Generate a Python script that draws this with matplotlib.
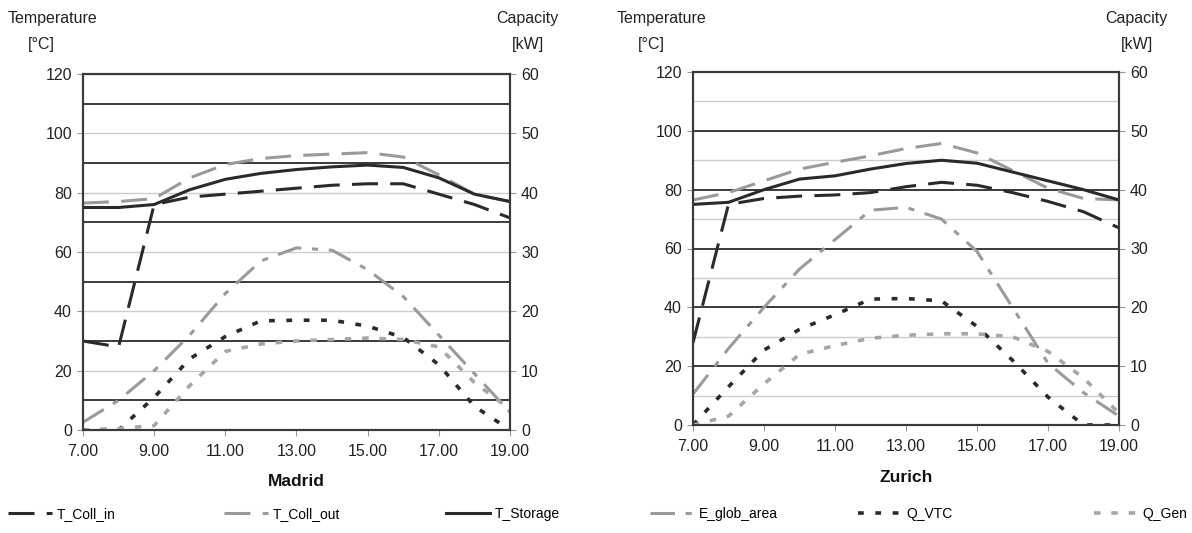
import matplotlib
matplotlib.use("Agg")
import matplotlib.pyplot as plt
from matplotlib.lines import Line2D

plt.rcParams['font.family'] = ['Liberation Sans', 'DejaVu Sans']

hours = [7, 8, 9, 10, 11, 12, 13, 14, 15, 16, 17, 18, 19]
xtick_vals = [7, 9, 11, 13, 15, 17, 19]
xtick_labels = ["7.00", "9.00", "11.00", "13.00", "15.00", "17.00", "19.00"]
cities = ["Madrid", "Zurich"]

# Temperatures [°C] (left axis)
madrid_t_coll_in = [30, 28, 76, 78.5, 79.5, 80.5, 81.5, 82.5, 83, 83, 79.5, 76, 71.5]
madrid_t_coll_out = [76.5, 77, 78, 85, 89.5, 91.5, 92.5, 93, 93.5, 92, 86, 79.5, 77]
madrid_t_storage = [75, 75, 76, 81, 84.5, 86.5, 87.8, 88.7, 89.3, 88.5, 85, 79.5, 77]
zurich_t_coll_in = [28, 75, 77, 77.8, 78.2, 79, 81, 82.5, 81.5, 79, 76, 72.5, 67]
zurich_t_coll_out = [76.5, 79, 83, 87, 89.3, 91.5, 94, 95.7, 92.5, 86.5, 80.5, 77, 76.5]
zurich_t_storage = [75, 75.7, 80, 83.6, 84.7, 87, 88.9, 90, 89, 86, 83, 80, 76.5]

# Capacities [kW] (right axis)
madrid_e_glob = [1.3, 5, 10, 16, 23, 28.5, 30.7, 30.3, 27, 22.5, 16, 9.5, 3]
madrid_q_vtc = [0, 0, 5.5, 12, 15.75, 18.4, 18.5, 18.5, 17.5, 15.6, 11, 4, 0]
madrid_q_gen = [0, 0.25, 0.75, 7.5, 13.25, 14.5, 15, 15.25, 15.5, 15.25, 14, 8, 3.5]
zurich_e_glob = [5.25, 13, 20, 26.5, 31.5, 36.5, 37, 35, 29.5, 20, 10.5, 5.5, 1.5]
zurich_q_vtc = [0, 6.5, 12.75, 16.25, 18.75, 21.4, 21.5, 21.1, 16.75, 11, 4.75, 0, 0]
zurich_q_gen = [0, 1.5, 7, 12, 13.5, 14.75, 15.25, 15.5, 15.5, 15, 12.5, 8, 2]

temps = {
    "Madrid": (madrid_t_coll_in, madrid_t_coll_out, madrid_t_storage),
    "Zurich": (zurich_t_coll_in, zurich_t_coll_out, zurich_t_storage),
}
caps = {
    "Madrid": (madrid_e_glob, madrid_q_vtc, madrid_q_gen),
    "Zurich": (zurich_e_glob, zurich_q_vtc, zurich_q_gen),
}

DARK = "#2a2a2a"
GREY = "#9a9a9a"
LGREY = "#a6a6a6"
FRAME = "#3a3a3a"

styles = {
    "T_Coll_in": dict(color=DARK, lw=2.2, dashes=(8.5, 4)),
    "T_Coll_out": dict(color=GREY, lw=2.2, dashes=(8.5, 4)),
    "T_Storage": dict(color=DARK, lw=2.2, linestyle='-'),
    "E_glob_area": dict(color=GREY, lw=2.2, dashes=(8, 3.5, 2, 3.5)),
    "Q_VTC": dict(color=DARK, lw=2.6, dashes=(1.6, 3.2)),
    "Q_Gen": dict(color=LGREY, lw=2.6, dashes=(1.8, 3.0)),
}
order = ["T_Coll_in", "T_Coll_out", "T_Storage", "E_glob_area", "Q_VTC", "Q_Gen"]

W, H = 1192, 533
fig = plt.figure(figsize=(W / 100, H / 100), dpi=100)

boxes = {
    "Madrid": (83, 74, 510, 430),
    "Zurich": (693, 72, 1119, 425),
}
dark_grid_major = {"Madrid": False, "Zurich": True}

for city in cities:
    x0, y0, x1, y1 = boxes[city]
    ax = fig.add_axes([x0 / W, 1 - y1 / H, (x1 - x0) / W, (y1 - y0) / H])
    ax2 = ax.twinx()

    ax.set_xlim(7, 19)
    ax.set_ylim(0, 120)
    ax2.set_ylim(0, 60)
    ax.set_yticks(range(0, 121, 20))
    ax.set_yticks(range(10, 120, 20), minor=True)
    ax2.set_yticks(range(0, 61, 10))
    ax.set_xticks(xtick_vals)
    ax.set_xticklabels(xtick_labels)

    if dark_grid_major[city]:
        ax.grid(True, which='major', axis='y', color=FRAME, lw=1.4)
        ax.grid(True, which='minor', axis='y', color='#cccccc', lw=1.0)
    else:
        ax.grid(True, which='major', axis='y', color='#cccccc', lw=1.0)
        ax.grid(True, which='minor', axis='y', color=FRAME, lw=1.4)
    ax.set_axisbelow(True)

    tin, tout, tsto = temps[city]
    ax.plot(hours, tin, label="T_Coll_in", **styles["T_Coll_in"])
    ax.plot(hours, tout, label="T_Coll_out", **styles["T_Coll_out"])
    ax.plot(hours, tsto, label="T_Storage", **styles["T_Storage"])
    eg, qv, qg = caps[city]
    ax2.plot(hours, eg, label="E_glob_area", **styles["E_glob_area"])
    ax2.plot(hours, qv, label="Q_VTC", **styles["Q_VTC"])
    ax2.plot(hours, qg, label="Q_Gen", **styles["Q_Gen"])

    for a in (ax, ax2):
        for s in a.spines.values():
            s.set_color(FRAME)
            s.set_linewidth(1.5)
        a.tick_params(which='major', length=4, width=0.8, color='#999999',
                      labelsize=11.5, labelcolor='#222222')
        a.tick_params(which='minor', length=0)
    ax.tick_params(axis='y', pad=4)
    ax2.tick_params(axis='y', pad=4)
    ax.tick_params(axis='x', pad=6)

    cx = (x0 + x1) / 2
    fig.text(cx / W, 1 - (y1 + 52) / H, city, ha='center', va='center',
             fontsize=12.5, fontweight='bold', color='#111111')
    # axis titles
    fig.text((x0 - 31) / W, 1 - 19 / H, "Temperature", ha='center', va='center',
             fontsize=11.5, color='#222222')
    fig.text((x0 - 42) / W, 1 - 45 / H, "[°C]", ha='center', va='center',
             fontsize=11.5, color='#222222')
    fig.text((x1 + 17) / W, 1 - 19 / H, "Capacity", ha='center', va='center',
             fontsize=11.5, color='#222222')
    fig.text((x1 + 18) / W, 1 - 45 / H, "[kW]", ha='center', va='center',
             fontsize=11.5, color='#222222')

legend_x = [8, 224, 446, 650, 858, 1094]
for name, lx in zip(order, legend_x):
    h = Line2D([], [], **styles[name])
    fig.legend([h], [name], loc='center left', bbox_to_anchor=(lx / W, 1 - 514 / H),
               frameon=False, fontsize=10, handlelength=3.2, handletextpad=0.3,
               borderpad=0, borderaxespad=0)

fig.savefig("out.png", dpi=100, facecolor='white')
